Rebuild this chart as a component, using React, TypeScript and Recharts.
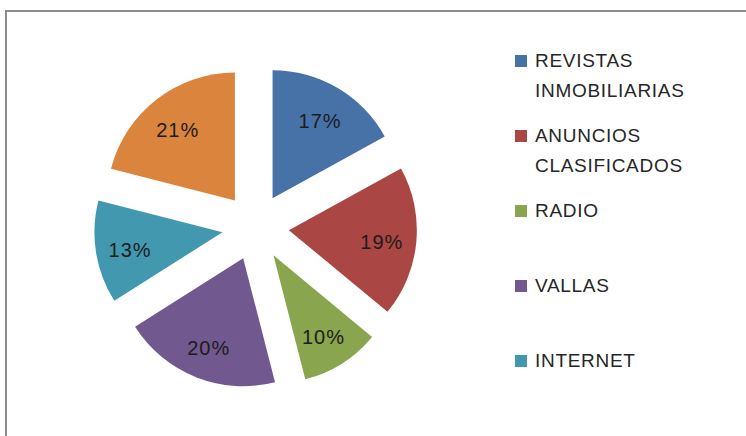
import React from 'react';
import { PieChart, Pie, Cell, Sector, Legend } from 'recharts';

const categories = ['REVISTAS INMOBILIARIAS', 'ANUNCIOS CLASIFICADOS', 'RADIO', 'VALLAS', 'INTERNET', 'OTROS'];
const values = [17, 19, 10, 20, 13, 21];
const colors = ['#4672A8', '#AA4643', '#89A54E', '#71588F', '#4198AF', '#DB843D'];
const legendShown = 5;

const data = categories.map((name, i) => ({ name, value: values[i] }));

const RADIAN = Math.PI / 180;
const EXPLODE = 33.5;
const FONT = '"Liberation Sans", Arial, sans-serif';

const renderSlice = (props: any) => {
  const { cx, cy, outerRadius, startAngle, endAngle, midAngle, percent, index } = props;
  const ux = Math.cos(-midAngle * RADIAN);
  const uy = Math.sin(-midAngle * RADIAN);
  const ox = cx + EXPLODE * ux;
  const oy = cy + EXPLODE * uy;
  const lr = outerRadius * 0.73;
  const lx = ox + lr * ux;
  const ly = oy + lr * uy + 3;
  return (
    <g key={`slice-${index}`}>
      <Sector
        cx={ox}
        cy={oy}
        innerRadius={0}
        outerRadius={outerRadius}
        startAngle={startAngle}
        endAngle={endAngle}
        fill={colors[index]}
        stroke="none"
      />
      <text
        x={lx}
        y={ly}
        textAnchor="middle"
        dominantBaseline="central"
        fontFamily={FONT}
        fontSize={20}
        letterSpacing={1}
        fill="#1c1c1c"
      >
        {`${Math.round(percent * 100)}%`}
      </text>
    </g>
  );
};

const renderLegend = () => {
  const items = categories.slice(0, legendShown);
  return (
    <div style={{ position: 'relative', width: 230, height: 380 }}>
      {items.map((name: string, i: number) => (
        <div
          key={`leg-${i}`}
          style={{ position: 'absolute', top: i * 75, left: 0, width: 230, display: 'flex', alignItems: 'flex-start' }}
        >
          <span style={{ width: 12, height: 12, background: colors[i], marginTop: 9, marginRight: 8, flex: 'none' }} />
          <span
            style={{
              fontFamily: FONT,
              fontSize: 19,
              lineHeight: '30px',
              letterSpacing: 0.7,
              color: '#262626',
              width: 180,
            }}
          >
            {name}
          </span>
        </div>
      ))}
    </div>
  );
};

export default function App() {
  return (
    <div
      style={{
        position: 'fixed',
        left: 0,
        top: 0,
        width: 746,
        height: 436,
        overflow: 'hidden',
        background: '#ffffff',
      }}
    >
      <div
        style={{
          position: 'absolute',
          left: 5,
          top: 10,
          width: 800,
          height: 500,
          borderLeft: '2px solid #8c8c8c',
          borderTop: '2px solid #8c8c8c',
        }}
      />
      <div style={{ position: 'absolute', left: 0, top: 0 }}>
        <PieChart width={746} height={436} margin={{ top: 0, right: 0, bottom: 0, left: 0 }}>
          <Pie
            data={data}
            dataKey="value"
            nameKey="name"
            cx={255.5}
            cy={227}
            outerRadius={128}
            startAngle={90}
            endAngle={-270}
            stroke="none"
            isAnimationActive={false}
            label={renderSlice}
            labelLine={false}
          >
            {data.map((d, i) => (
              <Cell key={`cell-${i}`} fill="transparent" stroke="none" />
            ))}
          </Pie>
          <Legend
            layout="vertical"
            align="right"
            verticalAlign="top"
            content={renderLegend}
            wrapperStyle={{ position: 'absolute', left: 515, top: 46, width: 230, height: 380 }}
          />
        </PieChart>
      </div>
    </div>
  );
}
